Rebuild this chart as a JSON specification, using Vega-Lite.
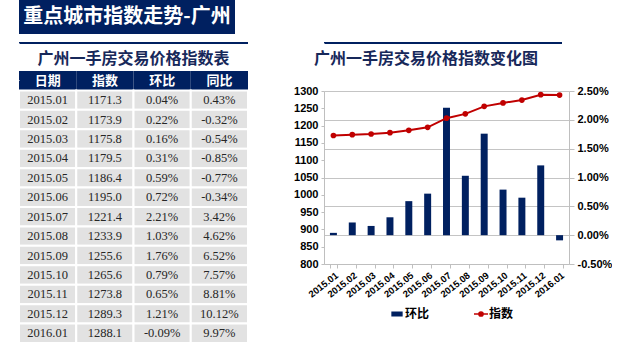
{
  "$schema": "https://vega.github.io/schema/vega-lite/v6.json",
  "padding": 0,
  "background": "white",
  "config": {
    "view": {"stroke": null},
    "locale": {"number": {"decimal": ".", "thousands": ",", "grouping": [3], "currency": ["", ""], "minus": "-"}}
  },
  "datasets": {
    "gz": [
      {"date": "2015.01", "index": 1171.3, "mom": 0.0004, "yoy": 0.0043},
      {"date": "2015.02", "index": 1173.9, "mom": 0.0022, "yoy": -0.0032},
      {"date": "2015.03", "index": 1175.8, "mom": 0.0016, "yoy": -0.0054},
      {"date": "2015.04", "index": 1179.5, "mom": 0.0031, "yoy": -0.0085},
      {"date": "2015.05", "index": 1186.4, "mom": 0.0059, "yoy": -0.0077},
      {"date": "2015.06", "index": 1195.0, "mom": 0.0072, "yoy": -0.0034},
      {"date": "2015.07", "index": 1221.4, "mom": 0.0221, "yoy": 0.0342},
      {"date": "2015.08", "index": 1233.9, "mom": 0.0103, "yoy": 0.0462},
      {"date": "2015.09", "index": 1255.6, "mom": 0.0176, "yoy": 0.0652},
      {"date": "2015.10", "index": 1265.6, "mom": 0.0079, "yoy": 0.0757},
      {"date": "2015.11", "index": 1273.8, "mom": 0.0065, "yoy": 0.0881},
      {"date": "2015.12", "index": 1289.3, "mom": 0.0121, "yoy": 0.1012},
      {"date": "2016.01", "index": 1288.1, "mom": -0.0009, "yoy": 0.0997}
    ],
    "hdr": [
      {"col": "date", "label": "日期"},
      {"col": "index", "label": "指数"},
      {"col": "mom", "label": "环比"},
      {"col": "yoy", "label": "同比"}
    ]
  },
  "spacing": 6,
  "resolve": {"scale": {"color": "independent"}, "legend": {"color": "independent"}},
  "vconcat": [
    {
      "width": 216,
      "height": 34,
      "view": {"fill": "#002060", "stroke": null},
      "data": {"values": [{"t": "重点城市指数走势-广州"}]},
      "mark": {"type": "text", "font": "Noto Sans CJK SC", "fontWeight": "bold", "fontSize": 20, "color": "white"},
      "encoding": {"text": {"field": "t", "type": "nominal"}}
    },
    {
      "spacing": 44,
      "resolve": {"scale": {"color": "independent"}, "legend": {"color": "independent"}},
      "hconcat": [
        {
          "spacing": 5,
          "vconcat": [
            {
              "width": 229,
              "height": 2,
              "view": {"fill": "#002060", "stroke": null},
              "data": {"values": [{"r": "a"}]},
              "mark": {"type": "point", "opacity": 0},
              "encoding": {
                "y": {"field": "r", "type": "nominal", "axis": {"labels": false, "domain": false, "grid": false, "ticks": true, "tickSize": 18, "tickColor": "white", "title": null}}
              }
            },
            {
              "width": 229,
              "height": 272,
              "title": {"text": "广州一手房交易价格指数表", "font": "Noto Sans CJK SC", "fontSize": 16, "fontWeight": "bold", "color": "#17285a", "anchor": "middle", "offset": 4},
              "layer": [
                {
                  "data": {"name": "hdr"},
                  "mark": {"type": "rect", "fill": "#002060"},
                  "encoding": {
                    "x": {"field": "col", "type": "nominal", "scale": {"domain": ["date", "index", "mom", "yoy"], "paddingInner": 0, "paddingOuter": 0}, "axis": null},
                    "y": {"datum": "hdr", "type": "ordinal", "scale": {"domain": ["hdr", "2015.01", "2015.02", "2015.03", "2015.04", "2015.05", "2015.06", "2015.07", "2015.08", "2015.09", "2015.10", "2015.11", "2015.12", "2016.01"], "paddingInner": 0, "paddingOuter": 0}, "axis": {"labels": false, "domain": false, "grid": false, "ticks": true, "tickSize": 18, "tickColor": "white", "title": null}}
                  }
                },
                {
                  "data": {"name": "hdr"},
                  "mark": {"type": "text", "color": "white", "font": "Noto Sans CJK SC", "fontWeight": "bold", "fontSize": 13},
                  "encoding": {
                    "x": {"field": "col", "type": "nominal"},
                    "y": {"datum": "hdr", "type": "ordinal"},
                    "text": {"field": "label", "type": "nominal"}
                  }
                },
                {
                  "data": {"name": "gz"},
                  "transform": [{"fold": ["date", "index", "mom", "yoy"], "as": ["col", "v"]}],
                  "mark": {"type": "rect", "fill": "#e2e2e2", "stroke": "white", "strokeWidth": 2},
                  "encoding": {
                    "x": {"field": "col", "type": "nominal"},
                    "y": {"field": "date", "type": "ordinal"}
                  }
                },
                {
                  "data": {"name": "gz"},
                  "transform": [{"fold": ["date"], "as": ["col", "v"]}],
                  "mark": {"type": "text", "font": "Liberation Serif", "fontSize": 12.5, "color": "#262626"},
                  "encoding": {
                    "x": {"field": "col", "type": "nominal"},
                    "y": {"field": "date", "type": "ordinal"},
                    "text": {"field": "date", "type": "nominal"}
                  }
                },
                {
                  "data": {"name": "gz"},
                  "transform": [{"fold": ["index"], "as": ["col", "v"]}],
                  "mark": {"type": "text", "font": "Liberation Serif", "fontSize": 12.5, "color": "#262626"},
                  "encoding": {
                    "x": {"field": "col", "type": "nominal"},
                    "y": {"field": "date", "type": "ordinal"},
                    "text": {"field": "index", "type": "quantitative", "format": ".1f"}
                  }
                },
                {
                  "data": {"name": "gz"},
                  "transform": [{"fold": ["mom"], "as": ["col", "v"]}],
                  "mark": {"type": "text", "font": "Liberation Serif", "fontSize": 12.5, "color": "#262626"},
                  "encoding": {
                    "x": {"field": "col", "type": "nominal"},
                    "y": {"field": "date", "type": "ordinal"},
                    "text": {"field": "mom", "type": "quantitative", "format": ".2%"}
                  }
                },
                {
                  "data": {"name": "gz"},
                  "transform": [{"fold": ["yoy"], "as": ["col", "v"]}],
                  "mark": {"type": "text", "font": "Liberation Serif", "fontSize": 12.5, "color": "#262626"},
                  "encoding": {
                    "x": {"field": "col", "type": "nominal"},
                    "y": {"field": "date", "type": "ordinal"},
                    "text": {"field": "yoy", "type": "quantitative", "format": ".2%"}
                  }
                }
              ]
            }
          ]
        },
        {
          "spacing": 5,
          "resolve": {"scale": {"color": "independent"}, "legend": {"color": "independent"}},
          "vconcat": [
            {
              "width": 238,
              "height": 2,
              "view": {"fill": "#002060", "stroke": null},
              "data": {"values": [{"r": "a"}]},
              "mark": {"type": "point", "opacity": 0},
              "encoding": {
                "y": {"field": "r", "type": "nominal", "axis": {"labels": false, "domain": false, "grid": false, "ticks": true, "tickSize": 5, "tickColor": "white", "title": null}}
              }
            },
            {
              "width": 245,
              "height": 173,
              "title": {"text": "广州一手房交易价格指数变化图", "font": "Noto Sans CJK SC", "fontSize": 16, "fontWeight": "bold", "color": "#17285a", "anchor": "start", "frame": "group", "dx": -10, "offset": 18},
              "data": {"name": "gz"},
              "layer": [
                {
                  "mark": {"type": "bar"},
                  "encoding": {
                    "x": {"field": "date", "type": "ordinal", "scale": {"paddingInner": 0.63, "paddingOuter": 0.315},
                      "axis": {"title": null, "tickBand": "extent", "labelAngle": -38, "labelFont": "Liberation Sans", "labelFontWeight": "bold", "labelFontSize": 9.5, "labelColor": "#000000", "domainColor": "#bfbfbf", "tickColor": "#bfbfbf", "tickSize": 4, "grid": false, "labelPadding": 2}},
                    "y": {"field": "mom", "type": "quantitative", "scale": {"domain": [-0.005, 0.025], "nice": false},
                      "axis": {"orient": "right", "title": null, "format": ".2%", "values": [-0.005, 0, 0.005, 0.01, 0.015, 0.02, 0.025], "grid": true, "gridColor": "#c4c4c4", "domainColor": "#bfbfbf", "tickColor": "#bfbfbf", "tickSize": 5, "labelFont": "Liberation Sans", "labelFontWeight": "bold", "labelFontSize": 11, "labelColor": "#000000", "labelPadding": 3}},
                    "color": {"datum": "环比", "type": "nominal", "scale": {"domain": ["环比", "指数"], "range": ["#002060", "#c00000"]},
                      "legend": {"orient": "none", "legendX": 65, "legendY": 215, "direction": "horizontal", "title": null, "labelFont": "Noto Sans CJK SC", "labelFontWeight": "bold", "labelFontSize": 12, "labelColor": "#000000", "symbolSize": 196, "columnPadding": 41, "labelOffset": 0,
                        "encode": {"symbols": {"update": {
                          "shape": {"signal": "datum.value === '指数' ? 'M-1,0H-0.3M0.3,0H1M-0.3,0A0.3,0.3 0 1,1 0.3,0A0.3,0.3 0 1,1 -0.3,0Z' : 'M-0.7,-0.25H0.7V0.25H-0.7Z'"},
                          "fill": {"signal": "datum.value === '指数' ? '#c00000' : '#002060'"},
                          "stroke": {"signal": "datum.value === '指数' ? '#c00000' : '#002060'"},
                          "strokeWidth": {"value": 1.5}
                        }}}}}
                  }
                },
                {
                  "mark": {"type": "line", "strokeWidth": 2, "point": {"filled": true, "size": 32}},
                  "encoding": {
                    "x": {"field": "date", "type": "ordinal"},
                    "y": {"field": "index", "type": "quantitative", "scale": {"domain": [800, 1300], "nice": false, "zero": false},
                      "axis": {"orient": "left", "title": null, "format": "d", "values": [800, 850, 900, 950, 1000, 1050, 1100, 1150, 1200, 1250, 1300], "grid": false, "domainColor": "#bfbfbf", "tickColor": "#bfbfbf", "tickSize": 3, "labelFont": "Liberation Sans", "labelFontWeight": "bold", "labelFontSize": 11, "labelColor": "#000000", "labelPadding": 3}},
                    "color": {"datum": "指数", "type": "nominal"}
                  }
                }
              ],
              "resolve": {"scale": {"y": "independent"}}
            }
          ]
        }
      ]
    }
  ]
}
